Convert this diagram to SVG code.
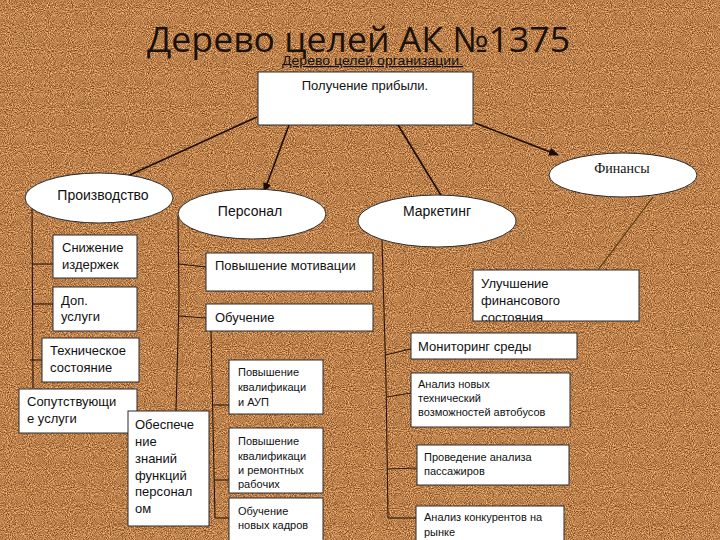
<svg xmlns="http://www.w3.org/2000/svg" width="720" height="540" viewBox="0 0 720 540">
<defs>
<filter id="cork" x="0" y="0" width="720" height="540" filterUnits="userSpaceOnUse" color-interpolation-filters="sRGB">
<feTurbulence type="fractalNoise" baseFrequency="0.95" numOctaves="2" seed="7" result="n"/>
<feColorMatrix in="n" type="matrix" values="0.95 0 0 0 0.26  0.85 0 0 0 0.08  0.6 0 0 0 0.0  0 0 0 0 1"/>
</filter>
<marker id="ah" markerWidth="10" markerHeight="8" refX="9" refY="4" orient="auto" markerUnits="userSpaceOnUse">
<path d="M0,0 L10,4 L0,8 Z" fill="#1a0c06"/>
</marker>
<clipPath id="clipFin"><rect x="473" y="270" width="166" height="51"/></clipPath>
</defs>
<style>
.box{fill:#ffffff;stroke:#2a2a2a;stroke-width:1}
.ell{fill:#ffffff;stroke:#2a2a2a;stroke-width:1}
.t{font-family:"Liberation Sans",Arial,sans-serif;fill:#111111}
.t14{font-size:14px}
.t13{font-size:13px}
.t11{font-size:11px}
.arr{stroke:#1a0c06;stroke-width:1.6;fill:none}
.con{stroke:#2a1608;stroke-width:1.1;fill:none}
</style>
<rect x="0" y="0" width="720" height="540" fill="#b47a46"/>
<rect x="0" y="0" width="720" height="540" filter="url(#cork)"/>

<g id="title">
<text x="147" y="52" font-family="'Open Sans','Noto Sans',sans-serif" font-size="35" fill="#1c120c" textLength="423" lengthAdjust="spacingAndGlyphs">Дерево целей АК №1375</text>
<text x="282" y="65" class="t" font-size="12.5" textLength="181" lengthAdjust="spacingAndGlyphs" text-decoration="underline">Дерево целей организации.</text>
</g>

<g id="connectors">
<line class="arr" x1="257" y1="117" x2="110" y2="184" marker-end="url(#ah)"/>
<line class="arr" x1="289" y1="125" x2="264" y2="192" marker-end="url(#ah)"/>
<line class="arr" x1="398" y1="125" x2="442" y2="197"/>
<line class="arr" x1="475" y1="123" x2="558" y2="155" marker-end="url(#ah)"/>
<line x1="653" y1="197" x2="598" y2="270" stroke="#5a3a12" stroke-width="1.2"/>
<polyline class="con" points="32,209 33,388"/>
<line class="con" x1="32" y1="264" x2="53" y2="264"/>
<line class="con" x1="32" y1="304" x2="53" y2="304"/>
<line class="con" x1="30" y1="360" x2="53" y2="360"/>
<polyline class="con" points="178,216 179,300 176,411"/>
<polyline class="con" points="179,264 206,267"/>
<polyline class="con" points="179,316 206,318"/>
<polyline class="con" points="211,331 215,518"/>
<line class="con" x1="212" y1="405" x2="229" y2="405"/>
<line class="con" x1="214" y1="480" x2="229" y2="480"/>
<line class="con" x1="215" y1="518" x2="229" y2="518"/>
<polyline class="con" points="382,240 386,380 388,518"/>
<line class="con" x1="385" y1="355" x2="411" y2="349"/>
<line class="con" x1="387" y1="397" x2="411" y2="393"/>
<line class="con" x1="388" y1="469" x2="417" y2="468"/>
<line class="con" x1="388" y1="518" x2="416" y2="518"/>
</g>

<g id="n-profit">
<rect class="box" x="258" y="72" width="215" height="53"/>
<text class="t t13" x="365" y="90" text-anchor="middle">Получение прибыли.</text>
</g>

<g id="n-proizvodstvo">
<ellipse class="ell" cx="99" cy="198" rx="74" ry="25"/>
<text class="t t14" x="103" y="200" text-anchor="middle">Производство</text>
</g>
<g id="n-personal">
<ellipse class="ell" cx="252" cy="214" rx="74" ry="25"/>
<text class="t t14" x="250" y="216" text-anchor="middle">Персонал</text>
</g>
<g id="n-marketing">
<ellipse class="ell" cx="437" cy="221" rx="79" ry="26"/>
<text class="t t14" x="437" y="216" text-anchor="middle">Маркетинг</text>
</g>
<g id="n-finance">
<ellipse class="ell" cx="623" cy="175" rx="74" ry="22"/>
<text x="622" y="173" text-anchor="middle" font-family="'Liberation Serif','Times New Roman',serif" font-size="14" fill="#111111">Финансы</text>
</g>

<g id="n-snizhenie">
<rect class="box" x="53" y="235" width="84" height="43"/>
<text class="t t13" x="62" y="252">Снижение</text>
<text class="t t13" x="62" y="269">издержек</text>
</g>
<g id="n-dop">
<rect class="box" x="53" y="287" width="84" height="44"/>
<text class="t t13" x="61" y="305">Доп.</text>
<text class="t t13" x="61" y="321">услуги</text>
</g>
<g id="n-tech">
<rect class="box" x="42" y="338" width="97" height="44"/>
<text class="t t13" x="50" y="355">Техническое</text>
<text class="t t13" x="50" y="372">состояние</text>
</g>
<g id="n-soput">
<rect class="box" x="19" y="389" width="118" height="44"/>
<text class="t t13" x="27" y="406">Сопутствующи</text>
<text class="t t13" x="27" y="423">е услуги</text>
</g>
<g id="n-obespech">
<rect class="box" x="128" y="411" width="81" height="115"/>
<text class="t t13" x="135" y="429">Обеспече</text>
<text class="t t13" x="135" y="446">ние</text>
<text class="t t13" x="135" y="463">знаний</text>
<text class="t t13" x="135" y="480">функций</text>
<text class="t t13" x="135" y="496">персонал</text>
<text class="t t13" x="135" y="513">ом</text>
</g>

<g id="n-motiv">
<rect class="box" x="206" y="253" width="167" height="38"/>
<text class="t t13" x="215" y="270">Повышение мотивации</text>
</g>
<g id="n-obuch">
<rect class="box" x="206" y="304" width="167" height="27"/>
<text class="t t13" x="215" y="322">Обучение</text>
</g>
<g id="n-kval-aup">
<rect class="box" x="229" y="360" width="94" height="54"/>
<text class="t t11" x="238" y="376">Повышение</text>
<text class="t t11" x="238" y="391">квалификаци</text>
<text class="t t11" x="238" y="406">и АУП</text>
</g>
<g id="n-kval-rem">
<rect class="box" x="229" y="428" width="94" height="65"/>
<text class="t t11" x="238" y="445">Повышение</text>
<text class="t t11" x="238" y="459.5">квалификаци</text>
<text class="t t11" x="238" y="474">и ремонтных</text>
<text class="t t11" x="238" y="488">рабочих</text>
</g>
<g id="n-new">
<rect class="box" x="229" y="498" width="94" height="50"/>
<text class="t t11" x="238" y="515">Обучение</text>
<text class="t t11" x="238" y="529">новых кадров</text>
</g>

<g id="n-fin-improve">
<rect class="box" x="473" y="270" width="166" height="51"/>
<g clip-path="url(#clipFin)">
<text class="t t13" x="481" y="288">Улучшение</text>
<text class="t t13" x="481" y="304.5">финансового</text>
<text class="t t13" x="481" y="321.5">состояния</text>
</g>
</g>
<g id="n-monitor">
<rect class="box" x="411" y="333" width="166" height="26"/>
<text class="t t13" x="418" y="351">Мониторинг среды</text>
</g>
<g id="n-analiz-tech">
<rect class="box" x="411" y="373" width="159" height="54"/>
<text class="t t11" x="418" y="388">Анализ новых</text>
<text class="t t11" x="418" y="402">технический</text>
<text class="t t11" x="418" y="416">возможностей автобусов</text>
</g>
<g id="n-pass">
<rect class="box" x="417" y="445" width="152" height="40"/>
<text class="t t11" x="424" y="461">Проведение анализа</text>
<text class="t t11" x="424" y="475">пассажиров</text>
</g>
<g id="n-konk">
<rect class="box" x="416" y="506" width="148" height="40"/>
<text class="t t11" x="424" y="521">Анализ конкурентов на</text>
<text class="t t11" x="424" y="536">рынке</text>
</g>
</svg>
